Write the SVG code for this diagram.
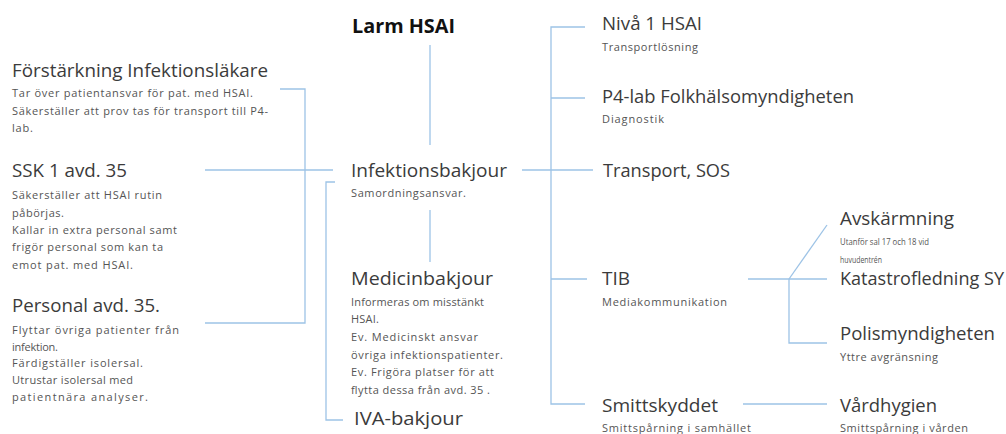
<svg xmlns="http://www.w3.org/2000/svg" width="1006" height="434" viewBox="0 0 1006 434">
<style>
text{font-family:"Open Sans","Liberation Sans",sans-serif}
.t{font-size:18px;fill:#3b3b3b}
.b{font-size:11px;fill:#555555}
.s{font-size:9.5px;fill:#555555}
.h{font-size:19px;font-weight:bold;fill:#111111}
.c{fill:none;stroke:#9dc3e6;stroke-width:1.3}
</style>
<rect width="1006" height="434" fill="#ffffff"/>
<g id="connectors" class="c">
<path d="M280,89 H305 V323 H205"/>
<path d="M205,170 H333"/>
<path d="M430,45 V145"/>
<path d="M430,210 V262"/>
<path d="M335,182 H326 V420 H343"/>
<path d="M522,170 H593"/>
<path d="M585,27 H551 V404 H585"/>
<path d="M551,98 H585"/>
<path d="M551,279 H587"/>
<path d="M748,279 H827"/>
<path d="M789,279 L827,225"/>
<path d="M789,279 V343 H827"/>
<path d="M743,404 H827"/>
</g>
<g id="larm">
<text class="h" x="352" y="33" textLength="103" lengthAdjust="spacingAndGlyphs">Larm HSAI</text>
</g>
<g id="forstarkning">
<text class="t" x="12" y="77" textLength="256" lengthAdjust="spacingAndGlyphs">Förstärkning Infektionsläkare</text>
<text class="b" x="12" y="97" textLength="241">Tar över patientansvar för pat. med HSAI.</text>
<text class="b" x="12" y="115" textLength="256">Säkerställer att prov tas för transport till P4-</text>
<text class="b" x="12" y="132" textLength="21">lab.</text>
</g>
<g id="ssk">
<text class="t" x="12" y="177" textLength="115" lengthAdjust="spacingAndGlyphs">SSK 1 avd. 35</text>
<text class="b" x="12" y="199" textLength="150">Säkerställer att HSAI rutin</text>
<text class="b" x="12" y="217" textLength="52">påbörjas.</text>
<text class="b" x="12" y="234" textLength="165">Kallar in extra personal samt</text>
<text class="b" x="12" y="251" textLength="151">frigör personal som kan ta</text>
<text class="b" x="12" y="269" textLength="121">emot pat. med HSAI.</text>
</g>
<g id="personal">
<text class="t" x="12" y="312" textLength="148" lengthAdjust="spacingAndGlyphs">Personal avd. 35.</text>
<text class="b" x="12" y="334" textLength="167">Flyttar övriga patienter från</text>
<text class="b" x="12" y="351" textLength="46">infektion.</text>
<text class="b" x="12" y="367" textLength="131">Färdigställer isolersal.</text>
<text class="b" x="12" y="384" textLength="121">Utrustar isolersal med</text>
<text class="b" x="12" y="401" textLength="136">patientnära analyser.</text>
</g>
<g id="infektionsbakjour">
<text class="t" x="351" y="177" textLength="156" lengthAdjust="spacingAndGlyphs">Infektionsbakjour</text>
<text class="b" x="351" y="197" textLength="115">Samordningsansvar.</text>
</g>
<g id="medicinbakjour">
<text class="t" x="351" y="285" textLength="142" lengthAdjust="spacingAndGlyphs">Medicinbakjour</text>
<text class="b" x="351" y="306" textLength="133">Informeras om misstänkt</text>
<text class="b" x="351" y="323" textLength="28">HSAI.</text>
<text class="b" x="351" y="341" textLength="127">Ev. Medicinskt ansvar</text>
<text class="b" x="351" y="359" textLength="152">övriga infektionspatienter.</text>
<text class="b" x="351" y="376" textLength="143">Ev. Frigöra platser för att</text>
<text class="b" x="351" y="394" textLength="139">flytta dessa från avd. 35 .</text>
</g>
<g id="iva">
<text class="t" x="354" y="425" textLength="109" lengthAdjust="spacingAndGlyphs">IVA-bakjour</text>
</g>
<g id="niva1">
<text class="t" x="602" y="30" textLength="100" lengthAdjust="spacingAndGlyphs">Nivå 1 HSAI</text>
<text class="b" x="602" y="51" textLength="96">Transportlösning</text>
</g>
<g id="p4lab">
<text class="t" x="602" y="103" textLength="252" lengthAdjust="spacingAndGlyphs">P4-lab Folkhälsomyndigheten</text>
<text class="b" x="602" y="123" textLength="62">Diagnostik</text>
</g>
<g id="transport">
<text class="t" x="603" y="177" textLength="127" lengthAdjust="spacingAndGlyphs">Transport, SOS</text>
</g>
<g id="tib">
<text class="t" x="602" y="285" textLength="28" lengthAdjust="spacingAndGlyphs">TIB</text>
<text class="b" x="602" y="306" textLength="125">Mediakommunikation</text>
</g>
<g id="smittskyddet">
<text class="t" x="602" y="412" textLength="116" lengthAdjust="spacingAndGlyphs">Smittskyddet</text>
<text class="b" x="602" y="432" textLength="149">Smittspårning i samhället</text>
</g>
<g id="avskarmning">
<text class="t" x="840" y="225" textLength="114" lengthAdjust="spacingAndGlyphs">Avskärmning</text>
<text class="s" x="840" y="245" textLength="89" lengthAdjust="spacingAndGlyphs">Utanför sal 17 och 18 vid</text>
<text class="s" x="840" y="263" textLength="42" lengthAdjust="spacingAndGlyphs">huvudentrén</text>
</g>
<g id="katastrofledning">
<text class="t" x="840" y="285" textLength="164" lengthAdjust="spacingAndGlyphs">Katastrofledning SY</text>
</g>
<g id="polis">
<text class="t" x="840" y="340" textLength="155" lengthAdjust="spacingAndGlyphs">Polismyndigheten</text>
<text class="b" x="840" y="361" textLength="98">Yttre avgränsning</text>
</g>
<g id="vardhygien">
<text class="t" x="840" y="412" textLength="97" lengthAdjust="spacingAndGlyphs">Vårdhygien</text>
<text class="b" x="840" y="432" textLength="128">Smittspårning i vården</text>
</g>
</svg>
